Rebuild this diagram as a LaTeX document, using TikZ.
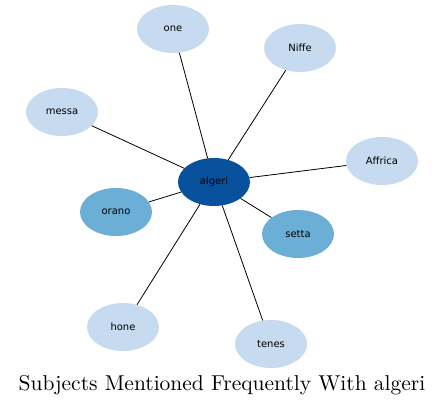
\documentclass[tikz,border=0pt]{standalone}
\usepackage{fontspec}
\newfontfamily\nodefont{DejaVu Sans}
\usetikzlibrary{shapes.geometric}
\definecolor{dark}{HTML}{08519C}
\definecolor{mid}{HTML}{6BAED6}
\definecolor{light}{HTML}{C6DBEF}
\tikzset{
  bub/.style={ellipse, minimum width=72pt, minimum height=48pt, inner sep=0pt, font=\nodefont\fontsize{10}{12}\selectfont},
  lightbub/.style={bub, fill=light},
  midbub/.style={bub, fill=mid},
  darkbub/.style={bub, fill=dark},
  link/.style={draw=black, line width=0.8pt}
}
\begin{document}
\begin{tikzpicture}[x=1pt,y=-1pt]
\useasboundingbox (0,0) rectangle (445,405);
\node[darkbub] (algeri) at (214,182) {algeri};
\node[lightbub] (one) at (173,29) {one};
\node[lightbub] (niffe) at (300,48) {Niffe};
\node[lightbub] (messa) at (62,112) {messa};
\node[lightbub] (affrica) at (382,161) {Affrica};
\node[midbub] (orano) at (116,212) {orano};
\node[midbub] (setta) at (298,234) {setta};
\node[lightbub] (hone) at (123,327) {hone};
\node[lightbub] (tenes) at (271,344) {tenes};
\foreach \n in {one,niffe,messa,affrica,orano,setta,hone,tenes}
  \draw[link] (algeri) -- (\n);
\node[inner sep=0pt, anchor=base] (title) at (222,390) {\scalebox{2.15}{\fontsize{10}{12}\selectfont Subjects Mentioned Frequently With algeri}};
\end{tikzpicture}
\end{document}
